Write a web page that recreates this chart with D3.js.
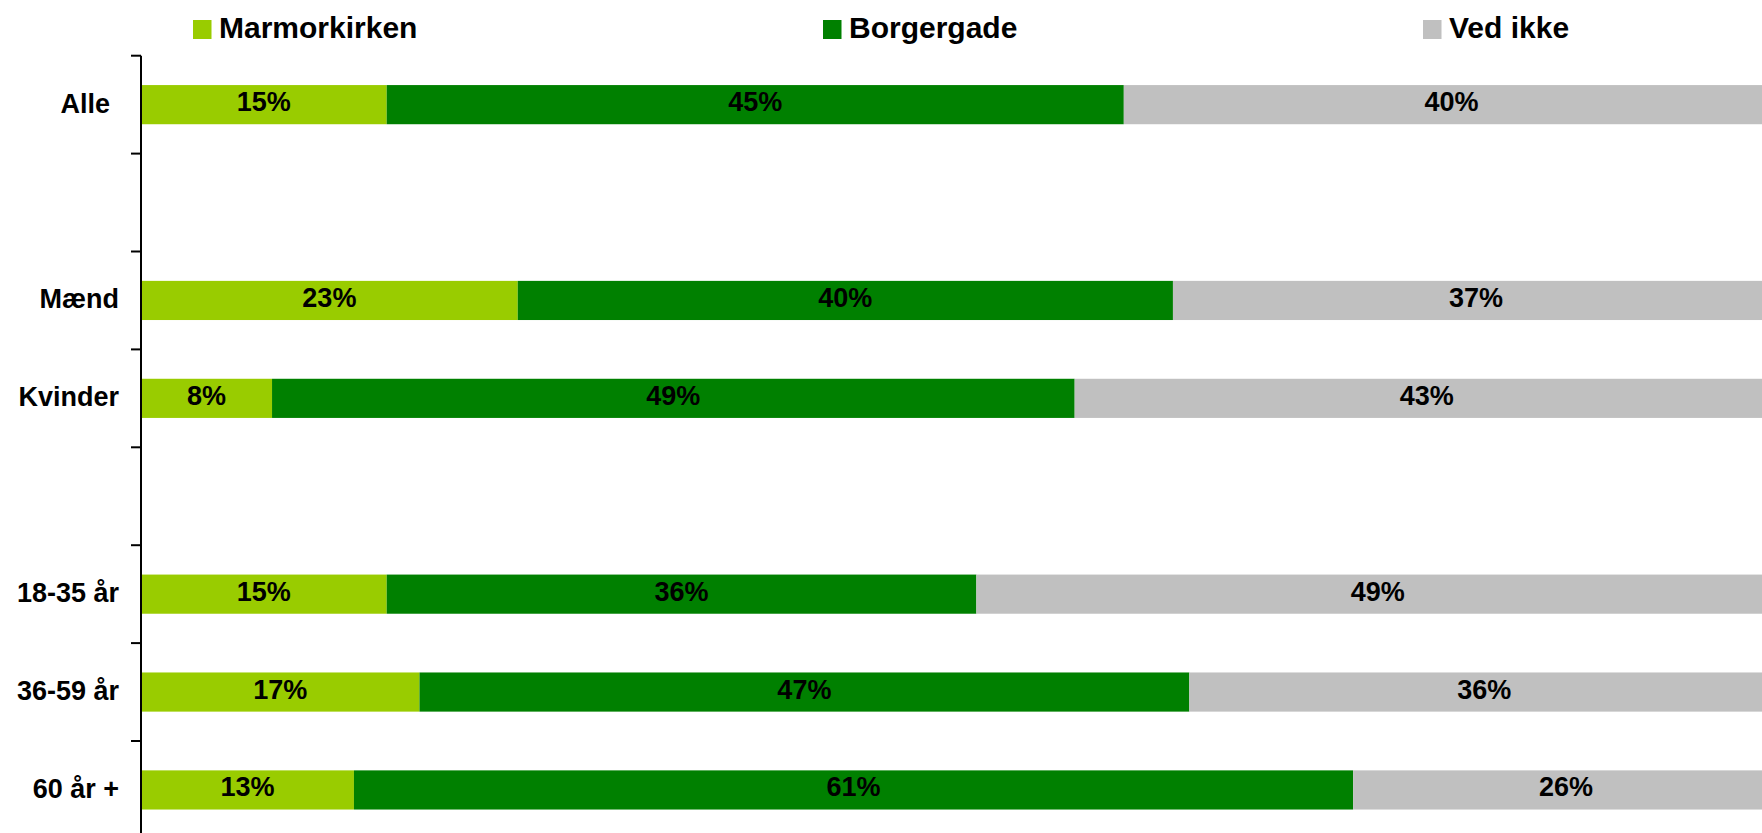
<!DOCTYPE html>
<html>
<head>
<meta charset="utf-8">
<script src="https://cdn.jsdelivr.net/npm/d3@7"></script>
<style>
  body { margin: 0; background: #fff; }
  svg { display: block; font-family: "Liberation Sans", Arial, sans-serif; font-weight: bold; }
</style>
</head>
<body>
<div id="chart"></div>
<script>
// rows of the chart, "_1" and "_2" are empty spacer rows
var categories = ["Alle", "_1", "Mænd", "Kvinder", "_2", "18-35 år", "36-59 år", "60 år +"];
var series = ["Marmorkirken", "Borgergade", "Ved ikke"];
var marmorkirken = [15, null, 23, 8, null, 15, 17, 13];
var borgergade   = [45, null, 40, 49, null, 36, 47, 61];
var vedIkke      = [40, null, 37, 43, null, 49, 36, 26];
var colors = ["#99cc00", "#008000", "#c0c0c0"];

var width = 1762, height = 833;

var svg = d3.select("#chart")
  .append("svg")
  .attr("width", width)
  .attr("height", height);

// scales
var x = d3.scaleLinear().domain([0, 100]).range([141, 1779]);
var y = d3.scaleBand().domain(categories).range([55.7, 55.7 + 8 * 97.9]).padding(0);
var barH = y.bandwidth() * 0.4;

// build stacked rows
var values = [marmorkirken, borgergade, vedIkke];
var rows = [];
categories.forEach(function(c, i) {
  if (marmorkirken[i] == null) return;
  var row = { cat: c };
  series.forEach(function(s, j) { row[s] = values[j][i]; });
  rows.push(row);
});
var stacked = d3.stack().keys(series)(rows);

var layer = svg.selectAll("g.layer")
  .data(stacked)
  .enter().append("g")
  .attr("class", "layer")
  .attr("fill", function(d, i) { return colors[i]; });

layer.selectAll("rect")
  .data(function(d) { return d; })
  .enter().append("rect")
  .attr("x", function(d) { return x(d[0]); })
  .attr("y", function(d) { return y(d.data.cat) + (y.bandwidth() - barH) / 2; })
  .attr("width", function(d) { return x(d[1]) - x(d[0]); })
  .attr("height", barH);

// value labels centred in each segment
layer.selectAll("text")
  .data(function(d) { return d; })
  .enter().append("text")
  .attr("x", function(d) { return (x(d[0]) + x(d[1])) / 2; })
  .attr("y", function(d) { return y(d.data.cat) + y.bandwidth() / 2 + 6.5; })
  .attr("text-anchor", "middle")
  .attr("fill", "#000")
  .style("font-size", "27px")
  .text(function(d) { return (d[1] - d[0]) + "%"; });

// vertical axis with ticks between the rows
var axisX = x(0);
svg.append("line")
  .attr("x1", axisX).attr("x2", axisX)
  .attr("y1", y.range()[0]).attr("y2", height + 10)
  .attr("stroke", "#000").attr("stroke-width", 2);

svg.selectAll("line.tick")
  .data(categories)
  .enter().append("line")
  .attr("class", "tick")
  .attr("x1", axisX - 10).attr("x2", axisX)
  .attr("y1", function(d) { return y(d); })
  .attr("y2", function(d) { return y(d); })
  .attr("stroke", "#000").attr("stroke-width", 2);

svg.selectAll("text.cat")
  .data(categories.filter(function(c) { return c.charAt(0) !== "_"; }))
  .enter().append("text")
  .attr("class", "cat")
  .attr("x", function(d) { return d === "Alle" ? 110 : 119; })
  .attr("y", function(d) { return y(d) + y.bandwidth() / 2 + 8; })
  .attr("text-anchor", "end")
  .style("font-size", "27px")
  .text(function(d) { return d; });

// legend
var legendX = [193, 823, 1423];
var legend = svg.selectAll("g.legend")
  .data(series)
  .enter().append("g")
  .attr("class", "legend")
  .attr("transform", function(d, i) { return "translate(" + legendX[i] + ",20)"; });

legend.append("rect")
  .attr("width", 18.5).attr("height", 19)
  .attr("fill", function(d, i) { return colors[i]; });

legend.append("text")
  .attr("x", 26)
  .attr("y", 18)
  .style("font-size", "30px")
  .text(function(d) { return d; });
</script>
</body>
</html>
